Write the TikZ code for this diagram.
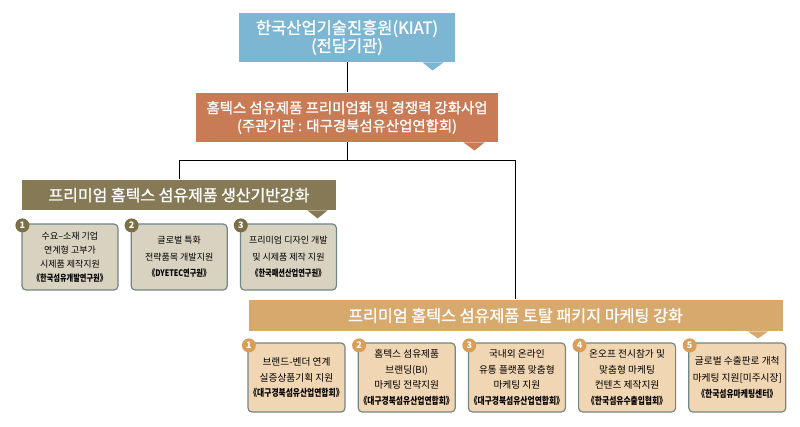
\documentclass[tikz,border=0pt]{standalone}
\usepackage{fontspec}
\setmainfont{Noto Sans CJK KR}
\newfontfamily\headfont[FakeBold=1.2]{Noto Sans CJK KR}
\newfontfamily\orgfont[FakeStretch=0.8]{Noto Sans CJK KR}
\usetikzlibrary{positioning}

\definecolor{kiatblue}{HTML}{7DB6D3}
\definecolor{leadorange}{HTML}{C97B56}
\definecolor{baseolive}{HTML}{857A55}
\definecolor{marktan}{HTML}{D7A96C}
\definecolor{basefill}{HTML}{D8D3C1}
\definecolor{markfill}{HTML}{F1D6B3}
\definecolor{boxedge}{HTML}{748684}
\definecolor{numolive}{HTML}{7B6F47}
\definecolor{numtan}{HTML}{D99F59}

\newcommand{\orgname}[1]{{\orgfont\bfseries 《#1》}}

\begin{document}
\begin{tikzpicture}[
            x = 1pt, y = -1pt, % pixel grid, y runs downwards
            line width = 1pt, % connector style
            head/.style = {text = white, inner sep = 0pt, align = center},
            task/.style = {
                draw = boxedge,
                line width = 1.2pt,
                rounded corners = 4pt,
                minimum width = 96pt,
                inner sep = 0pt,
                align = center
            },
            num/.style = {
                circle,
                fill = #1,
                text = white,
                minimum size = 14pt,
                inner sep = 0pt,
                font = \fontsize{9}{9}\selectfont\bfseries
            }
        ]

        \tikzstyle{basebox}=[task, fill = basefill, minimum height = 66pt]
        \tikzstyle{markbox}=[task, fill = markfill, minimum width = 97pt, minimum height = 69pt]

        \useasboundingbox (0,0) rectangle (800,427);

        % agencies
        \node[head, fill = kiatblue, minimum width = 216pt, minimum height = 49pt,
              font = \headfont\fontsize{16.5}{18}\selectfont] (kiat) at (347,37.5)
              {한국산업기술진흥원(KIAT)\\(전담기관)};
        \node[head, fill = leadorange, minimum width = 302pt, minimum height = 49pt,
              font = \headfont\fontsize{14.4}{18}\selectfont] (lead) at (347,117.5)
              {홈텍스 섬유제품 프리미엄화 및 경쟁력 강화사업\\(주관기관 : 대구경북섬유산업연합회)};

        % programme banners
        \node[head, fill = baseolive, minimum width = 314pt, minimum height = 30pt,
              font = \headfont\fontsize{16}{17}\selectfont] (base) at (179,195)
              {프리미엄 홈텍스 섬유제품 생산기반강화};
        \node[head, fill = marktan, minimum width = 534pt, minimum height = 31pt,
              font = \headfont\fontsize{16.2}{17}\selectfont] (mark) at (515.5,315.5)
              {프리미엄 홈텍스 섬유제품 토탈 패키지 마케팅 강화};

        % pointers under the boxes
        \fill[kiatblue] ([xshift=-33pt]kiat.south east) -- ([xshift=-12pt]kiat.south east)
            -- ([xshift=-23pt,yshift=-8pt]kiat.south east) -- cycle;
        \fill[leadorange] ([xshift=-35pt]lead.south east) -- ([xshift=-14pt]lead.south east)
            -- ([xshift=-24pt,yshift=-8pt]lead.south east) -- cycle;
        \fill[baseolive] ([xshift=-29pt]base.south east) -- ([xshift=-9pt]base.south east)
            -- ([xshift=-19pt,yshift=-8pt]base.south east) -- cycle;
        \fill[marktan] ([xshift=-35pt]mark.south east) -- ([xshift=-15pt]mark.south east)
            -- ([xshift=-25pt,yshift=-7pt]mark.south east) -- cycle;

        % base tasks
        \node[basebox, font = \fontsize{9}{14}\selectfont] (b1) at (70,257)
            {수요–소재 기업\\연계형 고부가\\시제품 제작지원\\\orgname{한국섬유개발연구원}};
        \node[basebox, font = \fontsize{9}{16.5}\selectfont] (b2) [right=12pt of b1]
            {글로벌 특화\\전략품목 개발지원\\\orgname{DYETEC연구원}};
        \node[basebox, font = \fontsize{9}{16.5}\selectfont] (b3) [right=12pt of b2]
            {프리미엄 디자인 개발\\및 시제품 제작 지원\\\orgname{한국패션산업연구원}};

        % marketing tasks
        \node[markbox, font = \fontsize{9.7}{15.7}\selectfont] (m1) at (296.5,377.5)
            {브랜드-벤더 연계\\실증상품기획 지원\\\orgname{대구경북섬유산업연합회}};
        \node[markbox, font = \fontsize{9.7}{15.7}\selectfont] (m2) [right=12pt of m1]
            {홈텍스 섬유제품\\브랜딩(BI)\\마케팅 전략지원\\\orgname{대구경북섬유산업연합회}};
        \node[markbox, font = \fontsize{9.7}{15.7}\selectfont] (m3) [right=12pt of m2]
            {국내외 온라인\\유통 플랫폼 맞춤형\\마케팅 지원\\\orgname{대구경북섬유산업연합회}};
        \node[markbox, font = \fontsize{9.7}{15.7}\selectfont] (m4) [right=12pt of m3]
            {온오프 전시참가 및\\맞춤형 마케팅\\컨텐츠 제작지원\\\orgname{한국섬유수출입협회}};
        \node[markbox, font = \fontsize{9.7}{16.5}\selectfont] (m5) [right=12pt of m4]
            {글로벌 수출판로 개척\\마케팅 지원[미주시장]\\\orgname{한국섬유마케팅센터}};

        % numbers
        \foreach \i in {1,2,3}
            \node[num = numolive] (nb\i) at ([xshift=1pt,yshift=-2pt]b\i.north west) {\i};
        \foreach \i in {1,...,5}
            \node[num = numtan] (nm\i) at ([xshift=1.5pt,yshift=-3pt]m\i.north west) {\i};

        % connectors
        \coordinate (split) at (347,161);
        \draw (kiat.south) -- (lead.north);
        \draw (lead.south) -- (split);
        \draw (split) -| (base.north);
        \draw (split) -| (mark.north);

    \end{tikzpicture}
\end{document}
